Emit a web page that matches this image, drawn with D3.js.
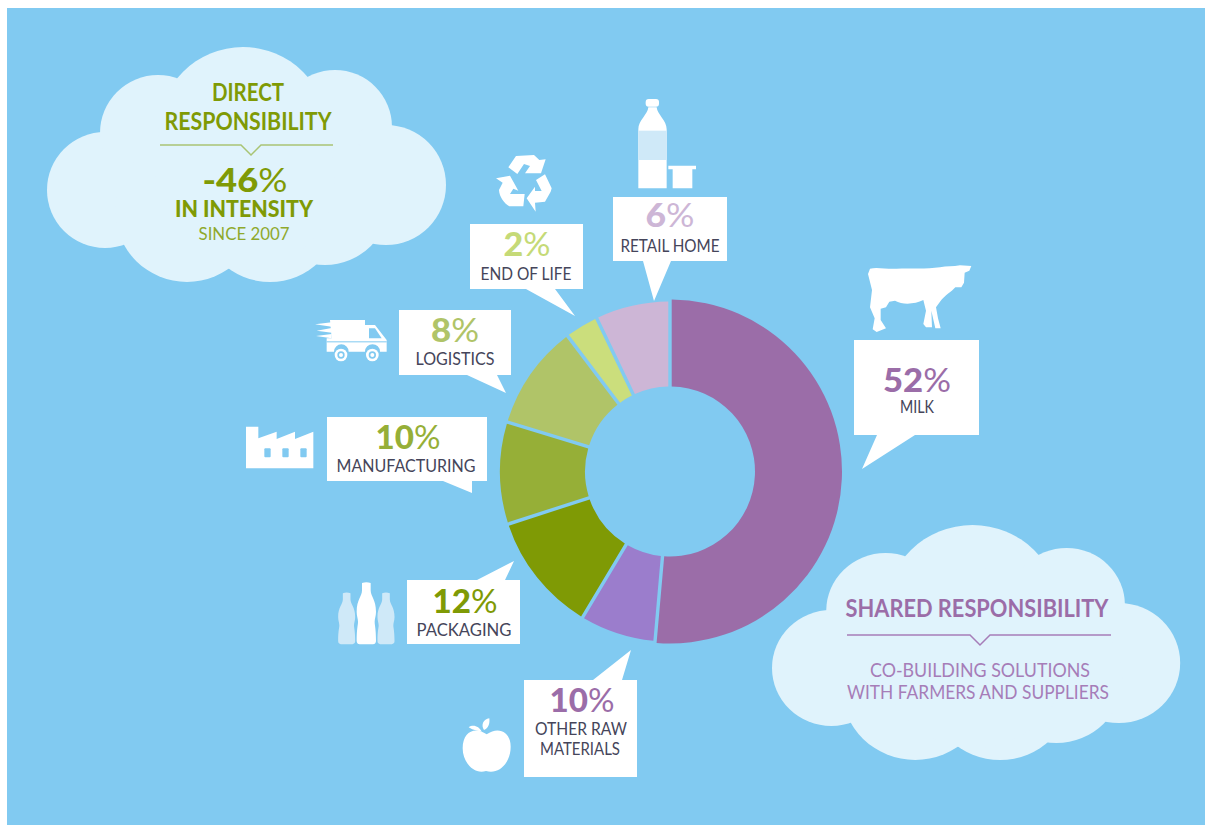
<!DOCTYPE html>
<html>
<head>
<meta charset="utf-8">
<title>Carbon footprint by stage</title>
<script src="https://cdn.jsdelivr.net/npm/d3@7"></script>
<style>
    html, body { margin: 0; padding: 0; background: #fff; overflow: hidden; }
    text { font-family: Lato, "Open Sans", sans-serif; }
</style>
</head>
<body>
<div id="chart"></div>
<script>
// Data, clockwise from 12 o'clock
const categories = ["MILK", "OTHER RAW MATERIALS", "PACKAGING", "MANUFACTURING", "LOGISTICS", "END OF LIFE", "RETAIL HOME"];
// Printed figures
const shareLabels = ["52%", "10%", "12%", "10%", "8%", "2%", "6%"];
// Drawn slice sizes, which differ a bit from the printed figures
const sliceValues = [51.4, 7.2, 11.4, 9.7, 10, 3.2, 7.1];
const sliceColors = ["#9b6da8", "#9b7dcc", "#7f9a05", "#96af37", "#b0c468", "#cbde7c", "#cdb6d6"];
const figureColors = ["#9b6da8", "#9b6da8", "#7f9a05", "#96af37", "#b0c468", "#c5da77", "#cdb6d6"];

const BG = "#81caf1";
const CLOUD = "#e0f3fc";
const PALE = "#cfe9f8";
const INK = "#45455a";
const GREEN = "#7f9a05";
const PURPLE = "#9b6da8";

const svg = d3.select("#chart").append("svg")
    .attr("width", 1205)
    .attr("height", 825)
    .style("display", "block");

svg.append("rect").attr("x", 7).attr("y", 8).attr("width", 1198).attr("height", 817).attr("fill", BG);

// Clouds: same outline used twice, made of overlapping circles
const cloudLobes = [
    [105, 190, 58], [158, 133, 58], [243, 132, 85], [335, 127, 57], [386, 185, 60],
    [187, 210, 72], [270, 212, 70], [325, 200, 65], [245, 180, 90]
];
function drawCloud(transform) {
    svg.append("g").attr("transform", transform).attr("fill", CLOUD)
        .selectAll("circle").data(cloudLobes).join("circle")
        .attr("cx", d => d[0]).attr("cy", d => d[1]).attr("r", d => d[2]);
}
drawCloud("translate(0,0)");
drawCloud("translate(725,478) translate(47,47) scale(1.023,1) translate(-47,-47)");

function notchLine(x1, x2, xn, y, color) {
    svg.append("path")
        .attr("d", `M${x1},${y}H${xn - 10}L${xn},${y + 10}L${xn + 10},${y}H${x2}`)
        .attr("fill", "none").attr("stroke", color).attr("stroke-width", 1.5);
}
notchLine(160, 333, 251, 145, "#a9c474");
notchLine(847, 1111, 980, 635, "#a67db8");

// Donut
const cx = 670, cy = 471.5;
const pie = d3.pie().sort(null).value(d => d);
const arc = d3.arc()
    .innerRadius(85)
    .outerRadius(d => d.index === 0 ? 172 : 170)
    .padAngle(0.02)
    .padRadius(170);

svg.append("g").attr("transform", `translate(${cx},${cy})`)
    .selectAll("path").data(pie(sliceValues)).join("path")
    .attr("d", arc)
    .attr("fill", (d, i) => sliceColors[i]);

// Speech bubbles, same order as categories: [x0, y0, x1, y1, baseA, baseB, tipX, tipY]
const bubbles = [
    [854, 340, 979, 435, 877, 915, 862, 469],
    [524, 680, 637, 777, 593, 622, 631, 650],
    [407, 580, 520, 644, 477, 505, 514, 561],
    [327, 417, 487, 481, 443, 472, 472, 493],
    [399, 310, 511, 375, 467, 497, 506, 393],
    [470, 224, 583, 289, 526, 555, 575, 316],
    [613, 197, 727, 261, 643, 671, 654, 301]
];
svg.append("g").attr("fill", "#fff")
    .selectAll("path").data(bubbles).join("path")
    .attr("d", b => {
        // The pointer sits on the edge nearest to the tip
        const edge = b[7] < b[1] ? b[1] : b[3];
        return `M${b[0]},${b[1]}H${b[2]}V${b[3]}H${b[0]}Z M${b[4]},${edge}L${b[6]},${b[7]}L${b[5]},${edge}Z`;
    });

// Text helper: fits a string to the width it has in the picture
function label(x, y, str, size, weight, color, width) {
    const t = svg.append("text")
        .attr("x", x).attr("y", y)
        .attr("text-anchor", "middle")
        .attr("font-size", size)
        .attr("font-weight", weight)
        .attr("fill", color)
        .text(str);
    if (width) t.attr("textLength", width).attr("lengthAdjust", "spacingAndGlyphs");
    return t;
}
function figure(x, y, str, size, color, width) {
    const t = label(x, y, "", size, 900, color, width);
    t.append("tspan").text(str.replace("%", ""));
    t.append("tspan").attr("font-weight", 400).text("%");
}

// Figure positions: [centre x, baseline, width], same order as categories
const figurePos = [
    [917, 392, 68], [582, 712, 65], [465, 613, 65], [408, 449, 65],
    [455, 342, 48], [527, 256, 47], [670, 227, 49]
];
shareLabels.forEach((s, i) => {
    figure(figurePos[i][0], figurePos[i][1], s, 33, figureColors[i], figurePos[i][2]);
});

label(917, 413, "MILK", 18, 400, INK, 34);
label(581, 735, "OTHER RAW", 18, 400, INK, 92);
label(580, 755, "MATERIALS", 18, 400, INK, 80);
label(464, 636, "PACKAGING", 18, 400, INK, 95);
label(406, 472, "MANUFACTURING", 18, 400, INK, 139);
label(455, 365, "LOGISTICS", 18, 400, INK, 79);
label(526, 280, "END OF LIFE", 18, 400, INK, 91);
label(670, 252, "RETAIL HOME", 18, 400, INK, 99);

// Cloud texts
label(248, 101, "DIRECT", 25, 700, GREEN, 72);
label(248, 130, "RESPONSIBILITY", 25, 700, GREEN, 167);
figure(245, 192, "-46%", 33, GREEN, 85);
label(244, 217, "IN INTENSITY", 22, 900, GREEN, 138);
label(244, 240, "SINCE 2007", 17, 400, "#8fa92c", 91);
label(977, 617, "SHARED RESPONSIBILITY", 25, 700, PURPLE, 263);
label(980, 677, "CO-BUILDING SOLUTIONS", 19, 400, "#a67db8", 220);
label(978, 699, "WITH FARMERS AND SUPPLIERS", 19, 400, "#a67db8", 262);

// Icons, traced at 3x and scaled back down
function icon(ox, oy) {
    return svg.append("g").attr("transform", `translate(${ox},${oy}) scale(${1 / 3})`).attr("fill", "#fff");
}

// Cow
icon(760, 250).append("path")
    .attr("d", "M330,56C350,50 380,58 410,56C450,54 500,58 540,52C560,48 580,50 600,46L634,48L628,62L614,68L612,98L604,112L586,112C575,125 555,135 540,155L528,172L534,205L542,235L526,235L514,182L516,232L498,232L490,222L498,182L490,150C465,162 430,166 405,152L388,155L378,172L362,176L362,210L378,235L350,246L338,238L344,205L330,172L336,120L324,72Z");

// Bottle and yogurt pot
const retailIcon = icon(300, 90);
retailIcon.append("rect").attr("x", 1037).attr("y", 27).attr("width", 40).attr("height", 23).attr("rx", 9);
retailIcon.append("path").attr("d", "M1045,52H1070C1072,75 1100,90 1100,118V295H1015V118C1015,90 1043,75 1045,52Z");
retailIcon.append("rect").attr("x", 1015).attr("y", 122).attr("width", 85).attr("height", 88).attr("fill", PALE);
retailIcon.append("path").attr("d", "M1105,227H1188V238H1177V295H1118V238H1105Z");

// Recycling arrows
icon(300, 90).append("path")
    .attr("d", "M625,232L648,198L702,195L718,210L737,208L723,250L675,250L690,228L672,222L652,252Z M588,265L630,257L655,302L640,296L630,312L674,312L670,349L628,349C612,340 598,320 597,300L608,278Z M708,270L735,253L755,295L752,305L735,335L705,338L707,365L680,325L705,290L705,303L725,303Z");

// Truck
const truck = icon(300, 90);
truck.append("path").attr("d", "M45,703L95,697V710Z M50,722L95,714V728Z M48,738L95,732V745Z");
truck.append("path").attr("d", "M90,690H195V705H225L260,750V785H240A22,22 0 0 0 195,785H146A22,22 0 0 0 102,785H80V745H95Z");
truck.append("path").attr("d", "M207,715H225L245,745H207Z").attr("fill", BG);
truck.append("rect").attr("x", 80).attr("y", 754).attr("width", 180).attr("height", 3).attr("fill", BG);
[123, 217].forEach(x => {
    truck.append("circle").attr("cx", x).attr("cy", 795).attr("r", 19);
    truck.append("circle").attr("cx", x).attr("cy", 795).attr("r", 11).attr("fill", BG);
    truck.append("circle").attr("cx", x).attr("cy", 795).attr("r", 6);
});

// Factory
const factory = icon(240, 400);
factory.append("path").attr("d", "M18,205V80H55V115L110,95V117L165,95V117L220,95V205Z");
[73, 127, 181].forEach(x => {
    factory.append("rect").attr("x", x).attr("y", 145).attr("width", 19).attr("height", 27).attr("rx", 3).attr("fill", BG);
});

// Three glass bottles, the shape is shared and stretched
const bottleShape = "M-13,2Q0,-3 13,2V24C13,42 29,52 29,88C29,102 25,108 25,118C25,130 29,136 29,176C29,182 25,186 20,186H-20C-25,186 -29,182 -29,176C-29,136 -25,130 -25,118C-25,108 -29,102 -29,88C-29,52 -13,42 -13,24Z";
const bottles = icon(240, 400);
bottles.append("path").attr("d", bottleShape).attr("transform", "translate(320,578) scale(0.88,0.83)").attr("fill", PALE);
bottles.append("path").attr("d", bottleShape).attr("transform", "translate(438,578) scale(0.88,0.83)").attr("fill", PALE);
bottles.append("path").attr("d", bottleShape).attr("transform", "translate(379,547)");

// Apple
const apple = icon(240, 400);
apple.append("path").attr("d", "M740,1003C705,978 668,995 668,1045C668,1090 705,1125 738,1113C775,1125 812,1090 812,1040C812,995 775,978 740,1003Z");
apple.append("path").attr("d", "M732,990C722,975 730,958 748,955C750,972 745,985 732,990Z M725,995C715,992 700,992 686,982C700,972 718,980 725,995Z");
</script>
</body>
</html>
